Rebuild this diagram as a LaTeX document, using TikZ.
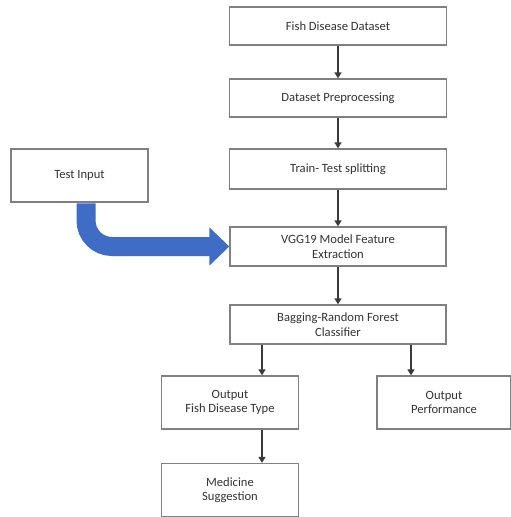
\documentclass[tikz,border=0pt]{standalone}
\usepackage{fontspec}
\setmainfont{Carlito}
\usetikzlibrary{arrows.meta}
\definecolor{boxline}{HTML}{808080}
\definecolor{arrline}{HTML}{3A3A3A}
\definecolor{txt}{HTML}{333333}
\definecolor{bigblue}{HTML}{3F6CC4}
\begin{document}
\begin{tikzpicture}[x=1pt,y=-1pt,
  box/.style={draw=boxline, line width=1.3pt, fill=white, text=txt, align=center,
    font=\fontsize{12.6}{14.5}\selectfont, inner sep=0pt},
  arr/.style={draw=arrline, line width=2pt, -{Triangle[width=7pt,length=6pt]}},
  bigarr/.style={draw=bigblue, line width=19pt, rounded corners=26pt,
    -{Triangle[width=37pt,length=20pt]}}]
\useasboundingbox (0,0) rectangle (511,517);
\fill[white] (0,0) rectangle (511,517);
\node[box, minimum width=217pt, minimum height=38pt] (b1) at (338,26) {Fish Disease Dataset};
\node[box, minimum width=217pt, minimum height=38pt] (b2) at (338,98) {Dataset Preprocessing};
\node[box, minimum width=217pt, minimum height=40pt] (b3) at (338,169) {Train- Test splitting};
\node[box, minimum width=216pt, minimum height=39pt] (b4) at (338,246.5) {VGG19 Model Feature\\Extraction};
\node[box, minimum width=216pt, minimum height=39pt] (b5) at (338,324.5) {Bagging-Random Forest\\Classifier};
\node[box, minimum width=137pt, minimum height=53pt] (b6) at (230,402.5) {Output\\Fish Disease Type};
\node[box, minimum width=134pt, minimum height=53pt] (b7) at (444,402.5) {Output\\Performance};
\node[box, minimum width=137pt, minimum height=53pt] (b8) at (230,490) {Medicine\\Suggestion};
\node[box, minimum width=137pt, minimum height=53pt] (ti) at (79.5,175.5) {Test Input};
\draw[arr] (b1) -- (b2);
\draw[arr] (b2) -- (b3);
\draw[arr] (b3) -- (b4);
\draw[arr] (b4) -- (b5);
\draw[arr] ([xshift=-76pt]b5.south) -- ([xshift=32pt]b6.north);
\draw[arr] ([xshift=73pt]b5.south) -- ([xshift=-33pt]b7.north);
\draw[arr] ([xshift=32pt]b6.south) -- ([xshift=32pt]b8.north);
\draw[bigarr] ([xshift=6.5pt,yshift=-0.7pt]ti.south) |- (b4.west);
\end{tikzpicture}
\end{document}
